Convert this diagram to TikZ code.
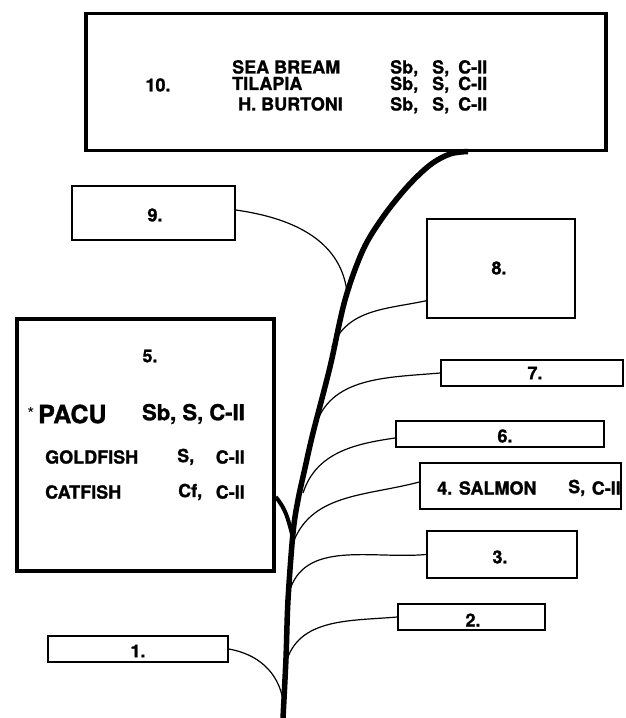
\documentclass[tikz,border=0pt]{standalone}
\usepackage{fontspec}
\setmainfont{TeX Gyre Heros}[BoldFeatures={FakeBold=1.2}]
\begin{document}
\begin{tikzpicture}[x=1pt,y=1pt,
  bx/.style={draw, line width=1.5pt, inner sep=0pt},
  bigbx/.style={draw, line width=3.5pt, inner sep=0pt},
  txt/.style={font=\fontsize{18}{20}\selectfont\bfseries, inner sep=0pt},
  txtb/.style={font=\fontsize{18}{20}\selectfont\bfseries, inner sep=0pt, anchor=base west},
  big/.style={font=\fontsize{25}{27}\selectfont\bfseries, inner sep=0pt},
  mid/.style={font=\fontsize{22}{24}\selectfont\bfseries, inner sep=0pt},
  br/.style={line width=1.2pt},
  thickbr/.style={line width=4pt}
]
\useasboundingbox (0,0) rectangle (625,718);

% trunk
\draw[line width=5.5pt] plot[smooth, tension=0.55] coordinates {(283,0) (286,60) (288,118) (293,185) (298,218) (305,250) (313,285) (330,351) (345,418) (363,468) (383,501) (407,531) (430,553) (450,564) (468,566.5)};

% junction points on the trunk
\coordinate (j9) at (347,426);
\coordinate (j8) at (332,371);
\coordinate (j7) at (315,290);
\coordinate (j6) at (303,225);
\coordinate (j5) at (292,184);
\coordinate (j4) at (292,172);
\coordinate (j3) at (289,125);
\coordinate (j2) at (286,55);
\coordinate (j1) at (283,18);

% boxes
\node[bigbx, minimum width=520pt, minimum height=137pt] (b10) at (346,636) {};
\node[bx, minimum width=163pt, minimum height=54pt] (b9) at (153.5,505) {};
\node[bx, minimum width=148pt, minimum height=99pt] (b8) at (501,449.5) {};
\node[bigbx, minimum width=257pt, minimum height=252pt] (b5) at (145.5,273) {};
\node[bx, minimum width=182pt, minimum height=26pt] (b7) at (532,345) {};
\node[bx, minimum width=208pt, minimum height=26pt] (b6) at (500,284) {};
\node[bx, minimum width=201pt, minimum height=46pt] (b4) at (520.5,232) {};
\node[bx, minimum width=150pt, minimum height=47pt] (b3) at (502,163.5) {};
\node[bx, minimum width=147pt, minimum height=26pt] (b2) at (471.5,101) {};
\node[bx, minimum width=180pt, minimum height=26pt] (b1) at (138,69) {};

% box 10 text
\node[txt] (l10) at (158,633) {10.};
\node[txtb] (sea) at (232,644.5) {SEA BREAM};
\node[txtb] (til) at (232,628) {TILAPIA};
\node[txtb] (hbu) at (238,607.5) {H. BURTONI};
\foreach \yy/\nm in {644.5/a,628/b,607.5/c}{
  \node[txtb] (sb\nm) at (390,\yy) {Sb,};
  \node[txtb] (s\nm) at (432,\yy) {S,};
  \node[txtb] (c\nm) at (458,\yy) {C-II};
}
% small box labels
\node[txt] (l9) at (155,503) {9.};
\node[txt] (l8) at (499,450) {8.};
\node[txt] (l7) at (535,345) {7.};
\node[txt] (l6) at (505,282) {6.};
\node[txt, anchor=west] (l4) at (437,230) {4. SALMON};
\node[txt, anchor=west] (l4s) at (568,230) {S,};
\node[txt, anchor=east] (l4c) at (621,230) {C-II};
\node[txt] (l3) at (500,161) {3.};
\node[txt] (l2) at (473,98) {2.};
\node[txt] (l1) at (138,67) {1.};

% box 5 text
\node[txt] (l5) at (150,362) {5.};
\node[font=\fontsize{18}{18}\selectfont, inner sep=0pt] (star) at (31,304) {*};
\node[big, anchor=west] (pacu) at (38,304) {PACU};
\node[mid, anchor=east] (pacud) at (245,304) {Sb, S, C-II};
\node[txt, anchor=west] (gold) at (45,261) {GOLDFISH};
\node[txt, anchor=west] (golds) at (177,261) {S,};
\node[txt, anchor=east] (goldc) at (245,261) {C-II};
\node[txt, anchor=west] (cat) at (45,226) {CATFISH};
\node[txt, anchor=west] (catc) at (178,226) {Cf,};
\node[txt, anchor=east] (catd) at (245,226) {C-II};

% branches
\draw[br] ([yshift=3pt]b9.east) to[out=-8, in=97] (j9);
\draw[br] ([yshift=18pt]b8.south west) to[out=192, in=68] (j8);
\draw[br] (b7.west) to[out=185, in=75] (j7);
\draw[br] ([yshift=-4pt]b6.west) to[out=188, in=72] (j6);
\draw[br] ([yshift=4pt]b4.west) to[out=195, in=72] (j4);
\draw[br] (b3.west) to[out=185, in=75] (j3);
\draw[br] (b2.west) to[out=185, in=75] (j2);
\draw[br] (b1.east) to[out=-10, in=100] (j1);
\draw[thickbr] ([yshift=-52pt]b5.east) to[out=-50, in=105] (j5);
\end{tikzpicture}
\end{document}
